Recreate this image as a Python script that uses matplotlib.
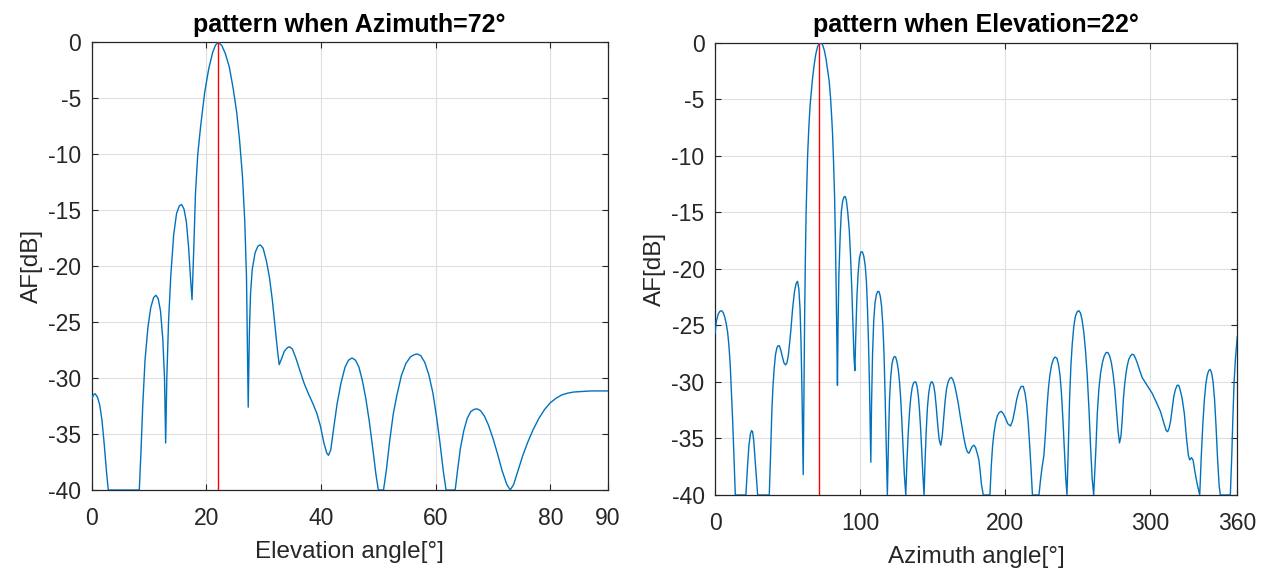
import matplotlib
matplotlib.use("Agg")
import matplotlib.pyplot as plt

plt.rcParams['font.family'] = ['Liberation Sans', 'DejaVu Sans']
plt.rcParams['axes.unicode_minus'] = False

# ---- Left: pattern vs elevation (Azimuth = 72°) ----
elev_deg = [0, 0.3, 0.6, 1.0, 1.4, 1.8, 2.2, 2.6, 2.9, 8.3, 8.6, 8.9, 9.3, 9.8, 10.3, 10.8, 11.2,
            11.6, 12.0, 12.4, 12.7, 12.9, 13.1, 13.4, 13.8, 14.3, 14.8, 15.3, 15.7, 16.1, 16.5,
            16.9, 17.2, 17.5, 17.8, 18.1, 18.5, 19.0, 19.7, 20.4, 21.1, 21.6, 22.1, 22.7, 23.3,
            24.0, 24.7, 25.3, 25.8, 26.3, 26.7, 27.0, 27.3, 27.5, 27.7, 28.0, 28.5, 29.0, 29.4,
            29.9, 30.5, 31.0, 31.5, 32.0, 32.4, 32.7, 33.1, 33.6, 34.1, 34.5, 35.0, 35.6, 36.3,
            37.0, 37.8, 38.6, 39.3, 39.9, 40.5, 41.0, 41.3, 41.7, 42.2, 42.8, 43.5, 44.2, 44.8,
            45.4, 46.0, 46.6, 47.2, 47.8, 48.4, 49.0, 49.6, 50.0, 50.9, 51.4, 52.0, 52.6, 53.2,
            54.0, 54.8, 55.6, 56.3, 56.8, 57.4, 58.1, 58.8, 59.5, 60.1, 60.7, 61.3, 61.8, 63.4,
            63.8, 64.3, 64.9, 65.5, 66.1, 66.7, 67.2, 67.8, 68.5, 69.2, 70.0, 70.8, 71.6, 72.4,
            73.0, 73.6, 74.4, 75.2, 76.0, 77.0, 78.0, 79.0, 80.0, 81.0, 82.0, 83.0, 84.0, 85.5,
            87.0, 90.0]
elev_af = [-31.9, -31.5, -31.4, -31.7, -32.4, -33.8, -36.0, -38.5, -40, -40, -36.5, -32.5, -28.4,
           -25.5, -23.7, -22.8, -22.6, -22.9, -24.0, -26.5, -30.0, -35.8, -30.0, -25.0, -20.8,
           -17.2, -15.3, -14.6, -14.5, -14.9, -16.0, -18.3, -20.8, -23.0, -18.5, -13.5, -10.0,
           -7.5, -4.5, -2.4, -0.9, -0.25, 0.0, -0.3, -1.0, -2.2, -4.2, -6.3, -8.8, -12.0, -16.0,
           -21.0, -32.6, -26.0, -22.5, -20.3, -18.8, -18.2, -18.1, -18.4, -19.6, -21.0, -23.0,
           -25.5, -27.5, -28.8, -28.3, -27.6, -27.3, -27.2, -27.4, -28.2, -29.3, -30.4, -31.4,
           -32.3, -33.2, -34.3, -35.8, -36.7, -36.9, -36.4, -34.5, -32.3, -30.4, -29.0, -28.4,
           -28.2, -28.4, -29.0, -30.2, -31.8, -33.8, -36.2, -38.7, -40, -40, -38.2, -35.5, -33.2,
           -31.6, -29.8, -28.7, -28.1, -27.9, -27.85, -28.0, -28.6, -29.7, -31.3, -33.3, -35.6,
           -38.2, -40, -40, -38.3, -36.3, -34.7, -33.6, -33.0, -32.8, -32.75, -32.9, -33.4, -34.2,
           -35.4, -36.8, -38.3, -39.5, -40, -39.5, -38.2, -36.9, -35.8, -34.6, -33.6, -32.8,
           -32.2, -31.8, -31.5, -31.35, -31.25, -31.2, -31.15, -31.15]
steer_elev = 22

# ---- Right: pattern vs azimuth (Elevation = 22°) ----
azim_deg = [0, 1.0, 2.2, 3.4, 4.6, 5.8, 6.8, 7.8, 8.7, 9.6, 10.5, 11.3, 12.2, 13.1, 14.0, 21.3,
            22.4, 23.4, 24.4, 25.2, 25.9, 26.7, 27.6, 28.5, 29.4, 37.4, 38.3, 39.2, 40.0, 40.8,
            41.7, 42.6, 43.5, 44.3, 45.2, 46.3, 47.5, 48.6, 49.6, 50.5, 51.4, 52.3, 53.5, 54.8,
            55.9, 56.9, 57.8, 58.6, 59.3, 59.9, 60.4, 60.8, 61.3, 61.8, 62.3, 62.8, 63.3, 63.8,
            64.6, 65.5, 66.4, 67.2, 68.3, 69.5, 70.7, 71.8, 73.0, 74.2, 75.4, 76.6, 77.7, 78.7,
            79.6, 80.4, 81.0, 81.7, 82.4, 83.0, 83.6, 84.1, 84.4, 84.8, 85.4, 86.3, 87.1, 88.0,
            88.9, 89.7, 90.5, 91.5, 92.5, 93.4, 94.3, 95.1, 95.8, 96.4, 97.0, 97.8, 98.7, 99.6,
            100.6, 101.6, 102.6, 103.6, 104.4, 105.1, 105.8, 106.5, 107.0, 107.4, 107.9, 108.6,
            109.4, 110.3, 111.2, 112.1, 113.0, 113.9, 114.8, 115.7, 116.5, 117.3, 118.1, 118.8,
            119.6, 120.3, 121.1, 122.0, 122.9, 123.7, 124.5, 125.4, 126.3, 127.2, 128.0, 128.8,
            129.6, 130.5, 131.5, 132.3, 133.2, 134.1, 135.0, 135.9, 136.8, 137.6, 138.4, 139.3,
            140.2, 141.0, 141.8, 142.6, 143.4, 144.1, 144.8, 145.6, 146.4, 147.3, 148.2, 149.0,
            149.8, 150.7, 151.6, 152.5, 153.5, 154.5, 155.6, 156.6, 157.6, 158.6, 159.6, 160.7,
            161.8, 162.9, 164.0, 165.2, 166.5, 167.8, 169.0, 170.3, 171.6, 172.9, 174.0, 175.1,
            176.2, 177.3, 178.5, 179.6, 180.7, 181.9, 182.7, 183.6, 184.9, 189.5, 190.4, 191.3,
            192.3, 193.4, 194.6, 195.9, 197.3, 198.7, 200.2, 201.8, 203.7, 205.2, 206.6, 208.0,
            209.5, 211.0, 212.5, 213.7, 214.8, 215.9, 216.9, 217.9, 218.8, 223.3, 224.5, 225.5,
            226.7, 227.8, 228.8, 229.8, 230.8, 232.0, 233.2, 234.4, 235.6, 236.7, 237.8, 238.8,
            239.8, 240.8, 241.8, 242.6, 243.6, 244.4, 245.3, 246.2, 247.3, 248.4, 249.6, 250.8,
            251.9, 253.0, 254.2, 255.4, 256.6, 257.8, 258.9, 260.0, 261.0, 262.5, 263.5, 264.6,
            265.8, 267.0, 268.3, 269.6, 270.8, 272.0, 273.2, 274.4, 275.6, 276.7, 277.8, 278.8,
            279.8, 280.6, 281.5, 282.3, 283.2, 284.1, 285.2, 286.4, 287.5, 288.6, 289.8, 291.0,
            292.5, 294.4, 297.8, 301.3, 304.2, 307.0, 309.5, 311.0, 312.0, 313.0, 314.1, 315.2,
            316.2, 317.3, 318.5, 319.6, 320.6, 321.9, 323.5, 325.0, 326.3, 327.2, 328.4, 329.5,
            330.6, 332.3, 334.1, 335.2, 336.3, 337.3, 338.3, 339.3, 340.3, 341.3, 342.3, 343.3,
            344.3, 345.3, 346.4, 347.5, 348.3, 355.2, 356.2, 357.0, 357.8, 358.7, 360.0]
azim_af = [-25.7, -24.6, -24.0, -23.75, -23.7, -23.9, -24.3, -24.9, -25.6, -26.8, -28.5, -30.8,
           -33.5, -36.8, -40, -40, -37.5, -35.6, -34.6, -34.3, -34.4, -35.2, -36.8, -38.5, -40,
           -40, -36.5, -32.5, -30.3, -28.8, -27.6, -27.0, -26.8, -26.8, -27.1, -27.7, -28.3,
           -28.5, -28.3, -27.7, -26.6, -25.4, -23.5, -22.0, -21.3, -21.1, -21.8, -23.5, -26.5,
           -30.5, -35.0, -38.2, -31.0, -24.0, -19.0, -15.0, -12.5, -10.1, -7.7, -5.6, -4.3, -3.2,
           -2.0, -1.0, -0.35, -0.05, 0.0, -0.2, -0.7, -1.5, -2.5, -3.4, -4.8, -6.5, -8.0, -10.5,
           -13.5, -17.5, -22.5, -27.5, -30.3, -25.0, -20.5, -17.0, -14.9, -14.0, -13.65, -13.6,
           -13.9, -15.0, -16.5, -18.8, -21.8, -25.0, -27.8, -29.0, -26.0, -22.5, -20.3, -19.0,
           -18.5, -18.5, -18.9, -19.8, -21.2, -23.5, -26.5, -30.5, -34.0, -37.1, -32.0, -27.5,
           -24.6, -23.0, -22.3, -22.0, -22.0, -22.4, -23.3, -25.0, -27.5, -31.5, -36.0, -40,
           -35.0, -31.5, -29.6, -28.4, -27.9, -27.75, -27.8, -28.2, -28.9, -30.0, -31.5, -33.5,
           -35.8, -38.2, -40, -37.0, -34.5, -32.6, -31.3, -30.5, -30.1, -30.0, -30.0, -30.4,
           -31.3, -32.6, -34.3, -36.5, -38.5, -40, -37.0, -34.3, -32.3, -31.0, -30.3, -30.0,
           -30.0, -30.3, -31.0, -32.2, -33.8, -35.1, -35.6, -34.8, -33.2, -31.7, -30.6, -30.0,
           -29.7, -29.6, -29.8, -30.3, -31.1, -32.0, -33.0, -34.0, -35.0, -35.8, -36.2, -36.3,
           -36.0, -35.7, -35.6, -35.8, -36.3, -36.9, -37.8, -39.0, -40, -40, -37.5, -35.7,
           -34.5, -33.6, -33.0, -32.7, -32.6, -32.8, -33.2, -33.7, -33.9, -33.4, -32.5, -31.5,
           -30.8, -30.4, -30.4, -31.0, -32.0, -33.6, -35.6, -37.8, -40, -40, -38.5, -37.5,
           -36.5, -34.5, -32.3, -30.6, -29.4, -28.5, -28.0, -27.8, -27.9, -28.4, -29.4, -31.0,
           -33.3, -36.0, -38.6, -40, -35.5, -31.5, -28.6, -26.7, -25.1, -24.2, -23.8, -23.7,
           -23.9, -24.5, -25.6, -27.3, -29.5, -32.5, -35.8, -38.6, -40, -36.0, -32.8, -30.6,
           -29.2, -28.3, -27.7, -27.4, -27.4, -27.7, -28.3, -29.3, -30.7, -32.5, -34.3, -35.4,
           -34.8, -33.5, -31.5, -30.3, -29.3, -28.6, -28.0, -27.7, -27.55, -27.6, -27.9, -28.3,
           -28.9, -29.6, -30.3, -31.0, -31.8, -32.6, -33.7, -34.3, -34.4, -34.1, -33.4, -32.3,
           -31.3, -30.7, -30.3, -30.3, -30.7, -31.4, -32.8, -35.0, -36.5, -36.9, -36.7, -36.9,
           -37.8, -39.0, -40, -36.5, -33.6, -31.6, -30.2, -29.4, -29.0, -28.9, -29.2, -30.0,
           -31.5, -33.8, -36.8, -39.2, -40, -40, -36.5, -33.0, -30.0, -28.0, -26.0]
steer_azim = 72

left_xticks = [0, 20, 40, 60, 80, 90]
right_xticks = [0, 100, 200, 300, 360]
yticks = [0, -5, -10, -15, -20, -25, -30, -35, -40]

BLUE = '#0072BD'
TXT = '#262626'
W, H = 1270, 577
fig = plt.figure(figsize=(W / 100, H / 100), dpi=100)

def make_axes(rect, x, y, steer, xlim, xticks, title, xlabel):
    ax = fig.add_axes(rect)
    ax.plot(x, y, color=BLUE, lw=1.0, zorder=3)
    ax.axvline(steer, color='#FF0000', lw=1.0, zorder=4)
    ax.set_xlim(*xlim)
    ax.set_ylim(-40, 0)
    ax.set_xticks(xticks)
    ax.set_yticks(yticks)
    ax.grid(True, color='#DFDFDF', lw=0.8, zorder=0)
    ax.set_axisbelow(True)
    ax.tick_params(direction='in', length=4, width=0.8, top=True, right=True,
                   labelsize=16.5, colors=TXT)
    ax.tick_params(axis='x', pad=12)
    ax.tick_params(axis='y', pad=7.5)
    for s in ax.spines.values():
        s.set_color(TXT)
        s.set_linewidth(0.9)
    ax.set_title(title, fontsize=18, fontweight='bold', color='black', pad=7.5)
    ax.set_xlabel(xlabel, fontsize=17.5, color=TXT, labelpad=8)
    ax.set_ylabel('AF[dB]', fontsize=17.5, color=TXT, labelpad=4)
    return ax

make_axes([91.7 / W, 1 - 490 / H, (607.7 - 91.7) / W, (490 - 42.3) / H],
          elev_deg, elev_af, steer_elev, (0, 90), left_xticks,
          'pattern when Azimuth=72°', 'Elevation angle[°]')
make_axes([715 / W, 1 - 495 / H, (1237.3 - 715) / W, (495 - 42.7) / H],
          azim_deg, azim_af, steer_azim, (0, 360), right_xticks,
          'pattern when Elevation=22°', 'Azimuth angle[°]')

fig.savefig('out.png', dpi=100, facecolor='white')
